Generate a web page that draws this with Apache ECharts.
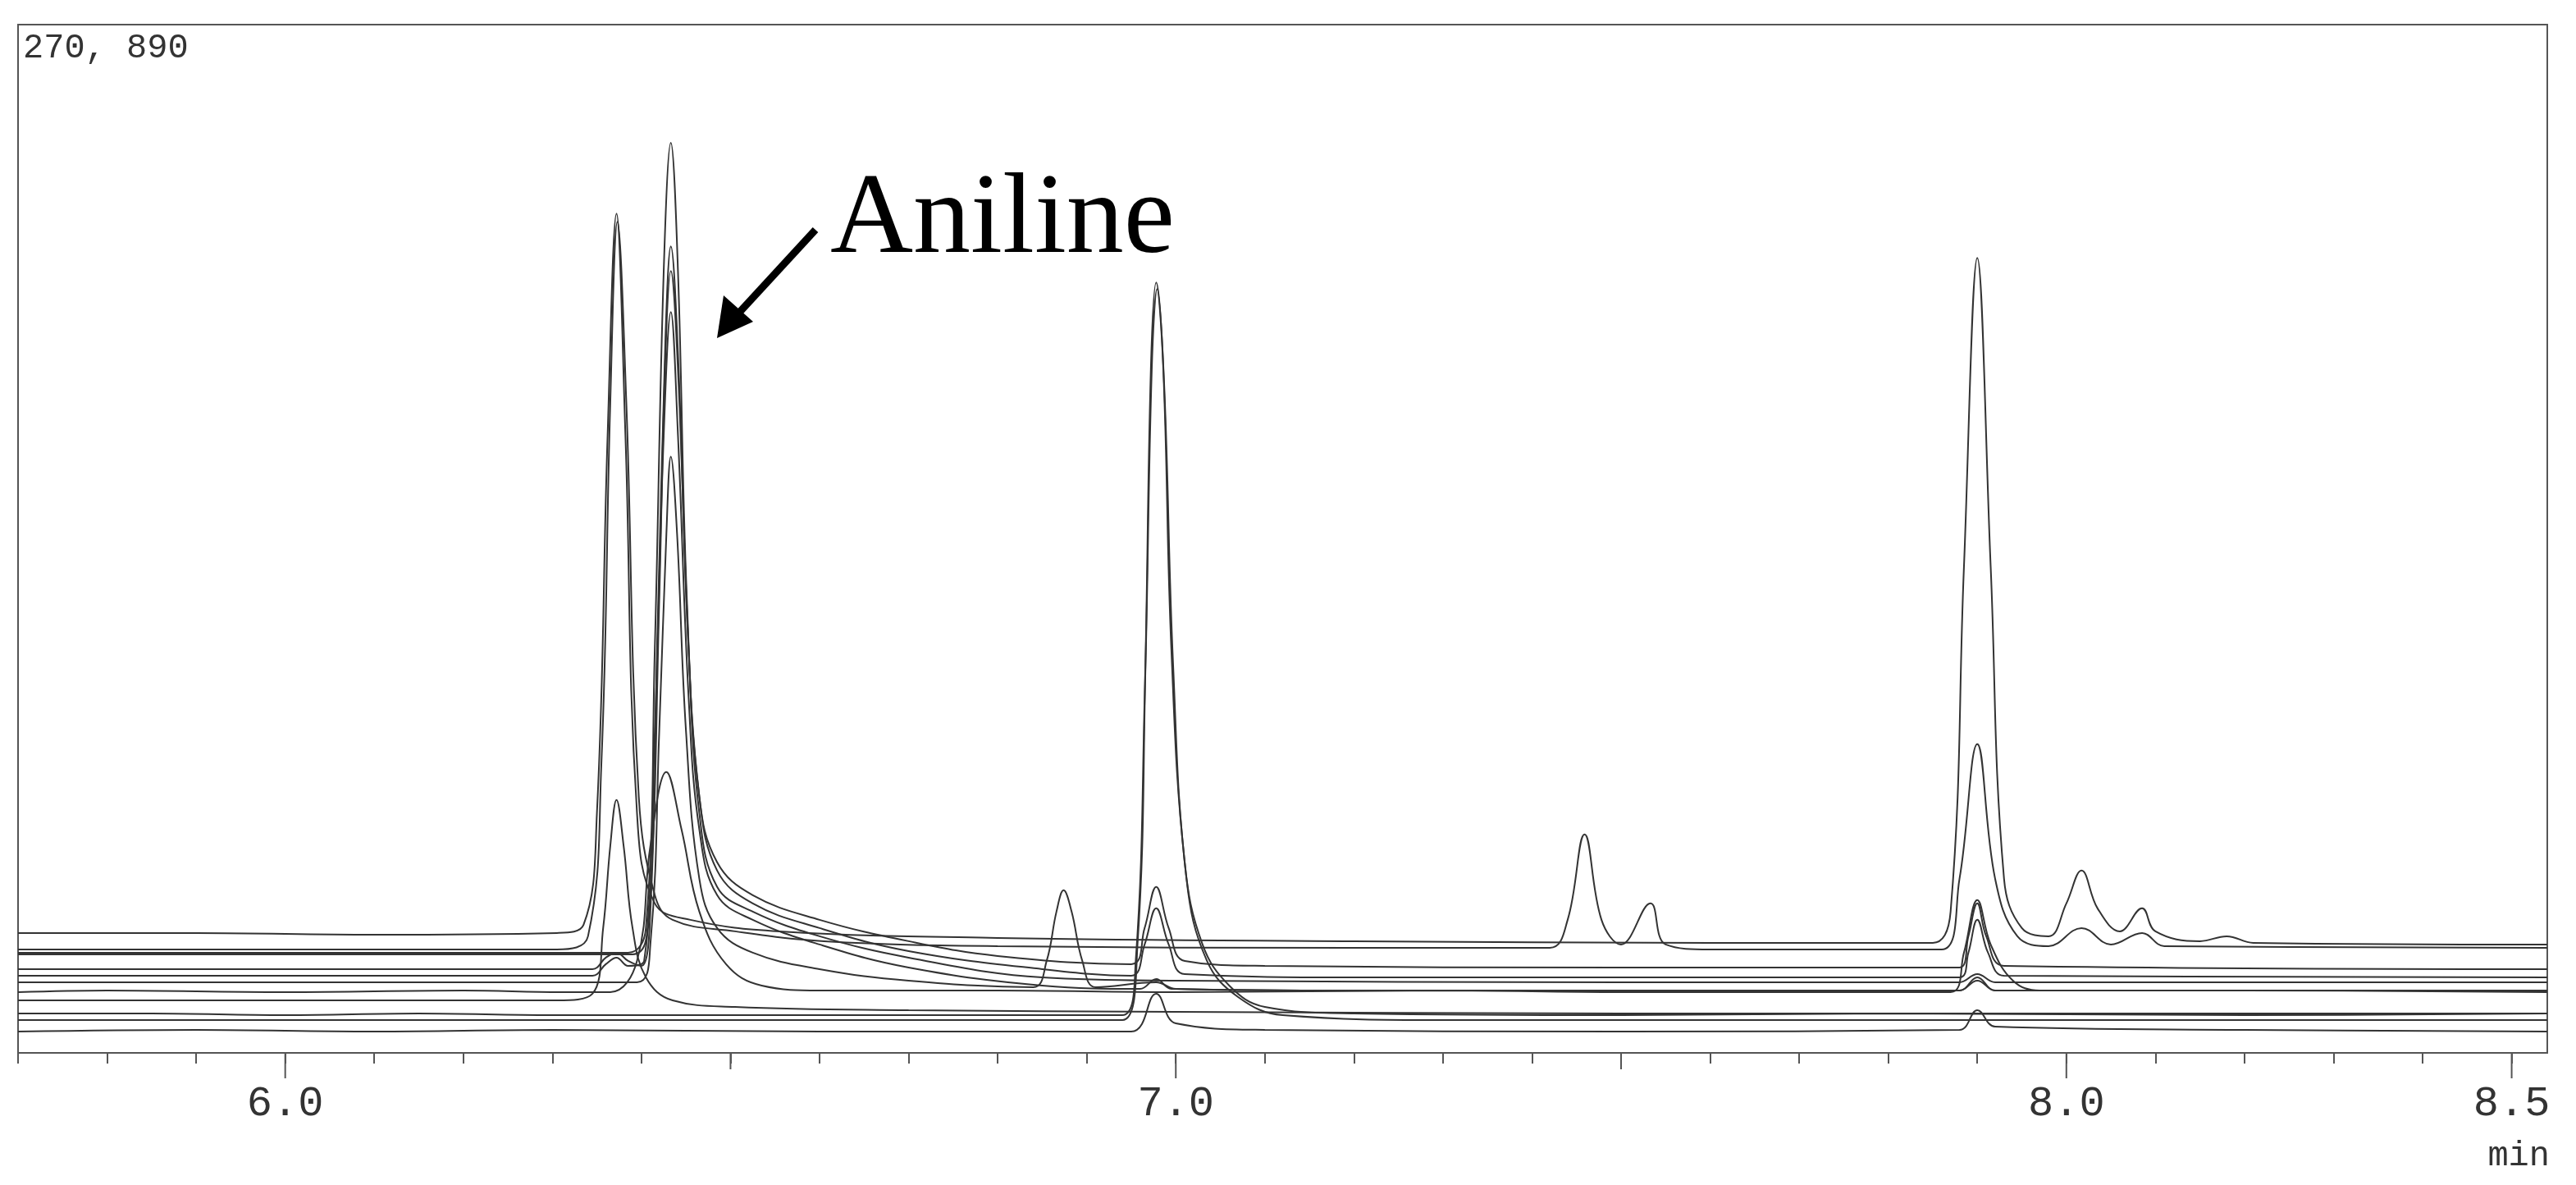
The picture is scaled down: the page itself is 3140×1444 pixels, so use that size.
<!DOCTYPE html>
<html>
<head>
<meta charset="utf-8">
<script src="https://cdn.jsdelivr.net/npm/echarts@6/dist/echarts.min.js"></script>
<style>
	html,body{margin:0;height:100%;background:#fff}
	#main{width:3140px;height:1444px}
</style>
</head>
<body>
<div id="main"></div>
<script>
// retention time (min) vs detector signal (plot units, top of frame = 630)
var majorTicks = [6.0, 7.0, 8.0, 8.5];
var halfTicks = [6.5, 7.5];
var yTopLabel = '270, 890';

var trace1 = [[5.7,77],[5.9,77],[6.1,76],[6.305,77],[6.335,82],[6.35,150],[6.362,380],[6.372,515],[6.382,380],[6.395,150],[6.415,95],[6.455,85],[6.555,78],[6.8,74],[7.2,72],[7.6,71],[7.85,71],[7.87,90],[7.885,300],[7.9,488],[7.915,300],[7.93,110],[7.95,80],[7.98,75],[8.0,95],[8.017,115],[8.035,92],[8.06,78],[8.085,92],[8.10,78],[8.15,72],[8.18,75],[8.21,71],[8.54,70]];
var trace2 = [[5.7,67],[6.0,67],[6.305,67],[6.34,75],[6.355,180],[6.365,400],[6.373,510],[6.383,400],[6.397,160],[6.415,100],[6.435,85],[6.505,78],[6.605,72],[6.8,69],[7.2,68],[7.42,68],[7.44,85],[7.459,137],[7.478,85],[7.50,70],[7.533,95],[7.55,70],[7.6,67],[7.86,67],[7.88,110],[7.9,192],[7.92,110],[7.945,75],[7.98,69],[8.017,80],[8.05,70],[8.085,77],[8.11,69],[8.54,68]];
var trace3 = [[5.7,65],[6.0,65],[6.385,65],[6.405,80],[6.415,250],[6.425,480],[6.433,558],[6.441,480],[6.451,280],[6.465,160],[6.485,120],[6.525,100],[6.6,85],[6.7,72],[6.8,63],[6.95,58],[6.965,80],[6.978,105],[6.992,80],[7.01,60],[7.1,57],[7.5,56],[7.88,56],[7.89,75],[7.9,95],[7.91,75],[7.93,57],[8.54,55]];
var trace4 = [[5.7,64],[6.0,64],[6.39,64],[6.408,90],[6.418,260],[6.427,440],[6.433,495],[6.441,430],[6.452,260],[6.465,160],[6.485,115],[6.525,95],[6.6,80],[6.7,66],[6.85,55],[6.95,51],[6.965,70],[6.978,92],[6.992,70],[7.01,52],[7.2,50],[7.88,50],[7.89,65],[7.9,85],[7.912,65],[7.93,51],[8.54,50]];
var trace5 = [[5.7,55],[6.0,55],[6.345,55],[6.36,62],[6.372,65],[6.385,60],[6.4,57],[6.41,90],[6.42,280],[6.427,430],[6.433,480],[6.441,420],[6.453,250],[6.465,150],[6.485,105],[6.525,90],[6.6,75],[6.7,62],[6.85,50],[7.0,48],[7.5,47],[7.88,47],[7.9,52],[7.92,47],[8.54,47]];
var trace6 = [[5.7,51],[6.0,51],[6.345,51],[6.36,58],[6.372,62],[6.385,57],[6.403,60],[6.415,200],[6.425,380],[6.433,455],[6.441,380],[6.453,220],[6.465,140],[6.485,100],[6.525,85],[6.6,70],[6.7,56],[6.85,45],[6.96,43],[6.978,49],[6.995,43],[7.2,42],[7.88,42],[7.9,48],[7.92,42],[8.54,42]];
var trace7 = [[5.7,47],[6.0,47],[6.395,47],[6.41,70],[6.42,200],[6.428,320],[6.433,367],[6.44,320],[6.45,200],[6.465,110],[6.485,80],[6.525,65],[6.6,55],[6.7,48],[6.84,44],[6.855,60],[6.866,90],[6.874,103],[6.883,90],[6.895,60],[6.91,44],[6.978,47],[7.0,43],[7.2,42],[7.88,42],[7.9,50],[7.92,42],[8.54,42]];
var trace8 = [[5.7,41],[5.8,42],[6.0,41],[6.2,42],[6.31,41],[6.365,41],[6.395,60],[6.41,130],[6.428,175],[6.445,140],[6.465,90],[6.495,58],[6.535,45],[6.6,42],[6.8,42],[7.0,41],[7.3,42],[7.5,41],[7.87,41],[7.885,65],[7.9,97],[7.915,70],[7.94,48],[7.97,42],[8.2,42],[8.54,41]];
var trace9 = [[5.7,36],[6.0,36],[6.305,36],[6.345,40],[6.357,80],[6.365,130],[6.372,158],[6.38,130],[6.39,80],[6.405,50],[6.435,36],[6.505,32],[6.7,30],[7.0,29],[7.5,28],[8.54,28]];
var trace10 = [[5.7,28],[5.85,28],[6.0,27],[6.15,28],[6.3,27],[6.6,27],[6.94,27],[6.955,60],[6.965,220],[6.972,420],[6.978,473],[6.986,420],[6.995,250],[7.01,120],[7.03,70],[7.06,45],[7.1,32],[7.2,28],[7.5,27],[7.8,28],[8.2,27],[8.54,28]];
var trace11 = [[5.7,24],[6.0,24],[6.5,24],[6.94,24],[6.957,70],[6.966,240],[6.973,420],[6.979,469],[6.987,410],[6.997,240],[7.012,110],[7.035,60],[7.07,38],[7.12,27],[7.3,24],[8.54,24]];
var trace12 = [[5.7,17],[5.9,18],[6.1,17],[6.3,18],[6.6,17],[6.95,17],[6.978,40],[7.0,22],[7.1,18],[7.5,17],[7.88,18],[7.9,30],[7.92,20],[8.2,18],[8.54,17]];

var traces = [trace1,trace2,trace3,trace4,trace5,trace6,trace7,trace8,trace9,trace10,trace11,trace12];

var minorTicks = [];
for (var i = 57; i <= 85; i++) minorTicks.push(i / 10);

var myChart = echarts.init(document.getElementById('main'));
var option = {
	animation:false,
	grid:{left:22, right:35, top:30, bottom:161, show:true, borderColor:'#555', borderWidth:2},
	xAxis:{
		type:'value', min:5.7, max:8.54, splitLine:{show:false},
		axisLine:{show:true, onZero:false, lineStyle:{color:'#555', width:2}},
		axisTick:{show:true, customValues:minorTicks, length:13, lineStyle:{color:'#555', width:2}},
		axisLabel:{customValues:majorTicks, margin:36, color:'#333', fontFamily:'Liberation Mono', fontSize:52,
			formatter:function(v){ return v.toFixed(1); }}
	},
	yAxis:{type:'value', min:4, max:630, show:false},
	series: traces.map(function(t){
		return {type:'line', data:t, showSymbol:false, smooth:0.4,
			lineStyle:{color:'#333', width:2}};
	})
};
myChart.setOption(option);

// longer ticks at half and whole minutes, placed through the axis scale
var axisY = 1444 - 161;
var tickMarks = [];
majorTicks.forEach(function(v){
	var px = myChart.convertToPixel({xAxisIndex:0}, v);
	tickMarks.push({type:'line', shape:{x1:px, y1:axisY, x2:px, y2:axisY + 31}, style:{stroke:'#555', lineWidth:2}});
});
halfTicks.forEach(function(v){
	var px = myChart.convertToPixel({xAxisIndex:0}, v);
	tickMarks.push({type:'line', shape:{x1:px, y1:axisY, x2:px, y2:axisY + 20}, style:{stroke:'#555', lineWidth:2}});
});
myChart.setOption({graphic: tickMarks.concat([
	{type:'text', left:28, top:38, style:{text:yTopLabel, font:'42px "Liberation Mono"', fill:'#333'}},
	{type:'text', right:32, top:1388, style:{text:'min', font:'42px "Liberation Mono"', fill:'#333'}},
	{type:'text', left:1012, top:200, style:{text:'Aniline', font:'140px "Liberation Serif"', fill:'#000'}},
	{type:'line', shape:{x1:994, y1:280, x2:900, y2:382}, style:{stroke:'#000', lineWidth:9}},
	{type:'polygon', shape:{points:[[874,412],[882,360],[918,392]]}, style:{fill:'#000'}}
])});
</script>
</body>
</html>
